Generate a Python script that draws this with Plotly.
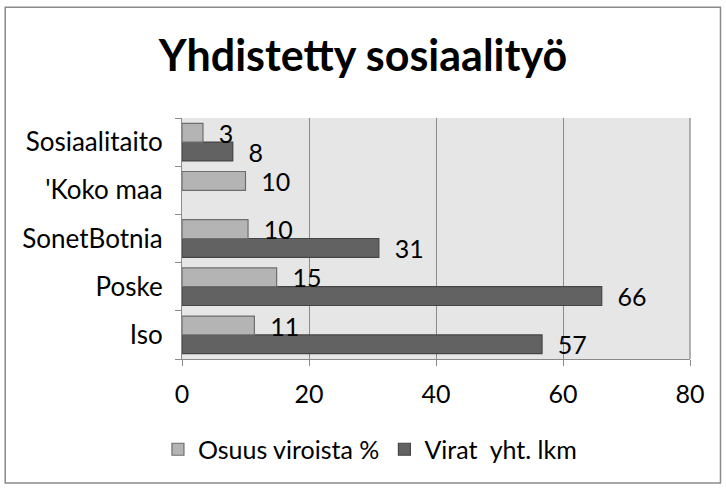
import plotly.graph_objects as go

categories = ["Iso", "Poske", "SonetBotnia", "'Koko maa", "Sosiaalitaito"]
osuus_viroista = [11.4, 14.9, 10.4, 10.0, 3.3]
virat_yht = [56.7, 66.1, 31.0, None, 8.0]
x_ticks = [0, 20, 40, 60, 80]

FONT = "Lato, Carlito, Calibri, sans-serif"
PAD = "\u00a0\u00a0"

fig = go.Figure()
fig.add_trace(go.Bar(
    y=categories, x=virat_yht, orientation="h", name="Virat  yht. lkm",
    marker=dict(color="#626262", line=dict(color="#454545", width=1.2)),
    texttemplate=PAD + "%{x:.0f}", textposition="outside", cliponaxis=False,
    constraintext="none",
    textfont=dict(color="#000000", size=25, family=FONT), legendrank=2,
))
fig.add_trace(go.Bar(
    y=categories, x=osuus_viroista, orientation="h", name="Osuus viroista %",
    marker=dict(color="#b4b4b4", line=dict(color="#6e6e6e", width=1.2)),
    texttemplate=PAD + "%{x:.0f}", textposition="outside", cliponaxis=False,
    constraintext="none",
    textfont=dict(color="#000000", size=25, family=FONT), legendrank=1,
))

fig.update_layout(
    width=726, height=488,
    margin=dict(l=182, r=36, t=118, b=129),
    paper_bgcolor="white", plot_bgcolor="#e6e6e6",
    barmode="group", bargap=0.22, bargroupgap=0,
    font=dict(family=FONT, size=25, color="#000000"),
    title=dict(text="<b>Yhdistetty sosiaalityö</b>", x=0.5, xanchor="center",
               y=0.885, yanchor="middle", font=dict(size=43, family=FONT)),
    xaxis=dict(range=[0, 80], tickvals=x_ticks, showgrid=True, gridcolor="#8a8a8a",
               gridwidth=1.3, zeroline=False, ticks="outside", ticklen=6,
               tickcolor="#8a8a8a", showline=True, linecolor="#8a8a8a", linewidth=1.3,
               mirror=False, tickfont=dict(size=25), ticklabelstandoff=7),
    yaxis=dict(type="category", categoryorder="array", categoryarray=categories,
               tickson="boundaries", ticks="outside", ticklen=6, tickcolor="#8a8a8a",
               showline=True, linecolor="#8a8a8a", linewidth=1.3, showgrid=False,
               tickfont=dict(size=26), ticklabelstandoff=13),
    legend=dict(orientation="h", x=0.37, xanchor="center", y=-0.28, yanchor="top",
                font=dict(size=25), itemwidth=30, tracegroupgap=0),
    showlegend=True,
    shapes=[dict(type="line", xref="paper", yref="paper", x0=1, x1=1, y0=0, y1=1,
                 line=dict(color="#8a8a8a", width=1.3)),
            dict(type="rect", xref="paper", yref="paper", x0=-0.348, x1=1.06,
                 y0=-0.515, y1=1.46, line=dict(color="#8a8a8a", width=1.5),
                 fillcolor="rgba(0,0,0,0)", layer="below")],
)

fig.write_html("out.html", config={"displayModeBar": False},
               post_script="document.body.style.margin='0';")
